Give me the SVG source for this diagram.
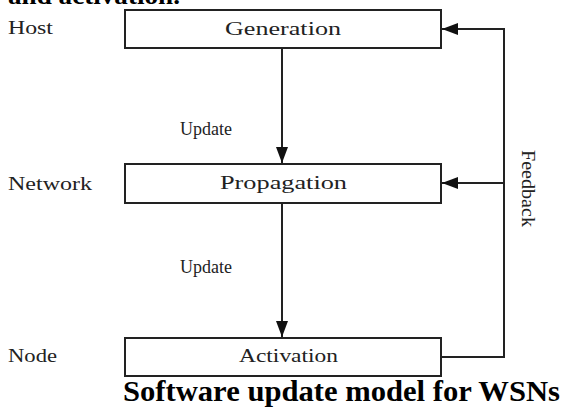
<svg xmlns="http://www.w3.org/2000/svg" width="565" height="409" viewBox="0 0 565 409">
  <style>
    .box { fill: #fff; stroke: #222; stroke-width: 2; }
    .line { fill: none; stroke: #222; stroke-width: 2; }
    .lbl { font-family: "Liberation Serif", "Times New Roman", serif; font-size: 18px; fill: #222; }
    .mid { text-anchor: middle; }
    .title { font-family: "Liberation Serif", "Times New Roman", serif; font-weight: bold; font-size: 29px; fill: #000; }
  </style>
  <defs>
    <marker id="arrowL" viewBox="0 0 16 12" refX="16" refY="6" markerWidth="16" markerHeight="12" markerUnits="userSpaceOnUse" orient="auto">
      <path d="M0,0 L16,6 L0,12 z" fill="#111"/>
    </marker>
  </defs>

  <!-- trailing line of the preceding paragraph -->
  <text class="title" x="8" y="4" style="font-size:26px" textLength="172" lengthAdjust="spacingAndGlyphs">and activation.</text>

  <!-- layer labels -->
  <text class="lbl" x="8" y="34" textLength="45" lengthAdjust="spacingAndGlyphs">Host</text>
  <text class="lbl" x="8" y="190" textLength="84" lengthAdjust="spacingAndGlyphs">Network</text>
  <text class="lbl" x="8" y="362" textLength="49" lengthAdjust="spacingAndGlyphs">Node</text>

  <g id="connectors">
    <path class="line" d="M282,48 V163" marker-end="url(#arrowL)"/>
    <path class="line" d="M282,203 V337" marker-end="url(#arrowL)"/>
    <path class="line" d="M442,357 H504 V29 H442" marker-end="url(#arrowL)"/>
    <path class="line" d="M504,183 H442" marker-end="url(#arrowL)"/>
    <text class="lbl" x="180" y="135" textLength="52" lengthAdjust="spacingAndGlyphs">Update</text>
    <text class="lbl" x="180" y="273" textLength="52" lengthAdjust="spacingAndGlyphs">Update</text>
    <text class="lbl" transform="translate(522,150) rotate(90)" textLength="77" lengthAdjust="spacingAndGlyphs">Feedback</text>
  </g>

  <g id="generation">
    <rect class="box" x="125" y="10" width="316" height="38"/>
    <text class="lbl" x="225" y="35" textLength="116" lengthAdjust="spacingAndGlyphs">Generation</text>
  </g>
  <g id="propagation">
    <rect class="box" x="125" y="164" width="316" height="39"/>
    <text class="lbl" x="220" y="189" textLength="127" lengthAdjust="spacingAndGlyphs">Propagation</text>
  </g>
  <g id="activation">
    <rect class="box" x="125" y="338" width="316" height="38"/>
    <text class="lbl" x="239" y="362" textLength="99" lengthAdjust="spacingAndGlyphs">Activation</text>
  </g>

  <text class="title" x="123" y="401" textLength="437" lengthAdjust="spacingAndGlyphs">Software update model for WSNs</text>
</svg>
